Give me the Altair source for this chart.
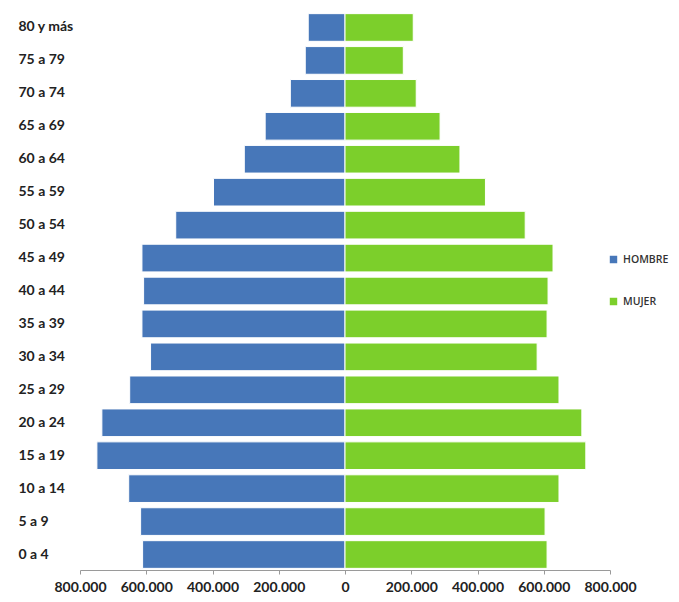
import altair as alt
import pandas as pd

ages = ["80 y más", "75 a 79", "70 a 74", "65 a 69", "60 a 64", "55 a 59",
        "50 a 54", "45 a 49", "40 a 44", "35 a 39", "30 a 34", "25 a 29",
        "20 a 24", "15 a 19", "10 a 14", "5 a 9", "0 a 4"]
hombre = [111000, 120000, 165000, 241000, 304000, 397000, 511000, 613000,
          608000, 613000, 587000, 650000, 734000, 749000, 653000, 617000, 611000]
mujer = [206000, 176000, 215000, 287000, 347000, 424000, 544000, 628000,
         613000, 610000, 580000, 646000, 715000, 727000, 646000, 604000, 610000]
series = ["HOMBRE", "MUJER"]
colors = ["#4777B9", "#7CCF2B"]
ticks = [-800000, -600000, -400000, -200000, 0, 200000, 400000, 600000, 800000]

rows = []
for a, h, m in zip(ages, hombre, mujer):
    rows.append({"edad": a, "sexo": "HOMBRE", "valor": -h})
    rows.append({"edad": a, "sexo": "MUJER", "valor": m})
df = pd.DataFrame(rows)

chart = alt.Chart(df).mark_bar(stroke="white", strokeWidth=1).encode(
    y=alt.Y("edad:N", sort=ages, title=None,
            scale=alt.Scale(paddingInner=0.16, paddingOuter=0.05),
            axis=alt.Axis(labelAlign="left", labelPadding=62, ticks=False,
                          domain=False, labelFont="Lato", labelFontSize=14,
                          labelFontWeight="bold", labelColor="#222222")),
    x=alt.X("valor:Q", title=None,
            scale=alt.Scale(domain=[-800000, 800000], nice=False),
            axis=alt.Axis(values=ticks, grid=False, tickSize=4, labelOverlap=False,
                          labelFlush=False,
                          domainColor="#9a9a9a", tickColor="#9a9a9a",
                          labelExpr="replace(format(abs(datum.value), ',d'), ',', '.')",
                          labelFont="Lato", labelFontSize=14, labelFontWeight="bold",
                          labelColor="#222222", labelPadding=6)),
    color=alt.Color("sexo:N", title=None,
                    scale=alt.Scale(domain=series, range=colors),
                    legend=alt.Legend(orient="none", legendX=528, legendY=242,
                                      symbolType="square", symbolSize=80,
                                      labelFont="Open Sans", labelFontSize=10.5,
                                      labelFontWeight=600, labelColor="#333333",
                                      rowPadding=27, labelOffset=4)),
).properties(
    width=530, height=558,
    autosize=alt.AutoSizeParams(type="none"),
    padding={"left": 72, "top": 4, "right": 61, "bottom": 24},
).configure_view(stroke=None)

chart.save("out.html", embed_options={"renderer": "svg", "actions": False})
